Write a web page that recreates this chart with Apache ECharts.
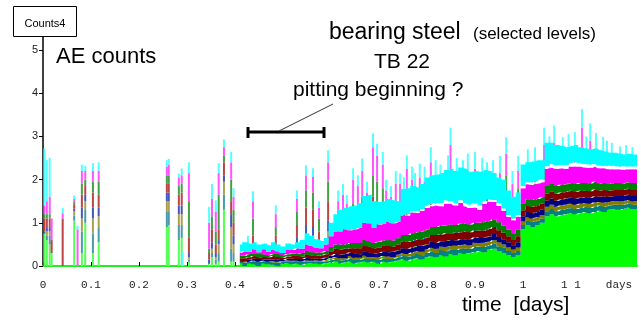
<!DOCTYPE html>
<html>
<head>
<meta charset="utf-8">
<script src="https://cdn.jsdelivr.net/npm/echarts@6/dist/echarts.min.js"></script>
<style>
html, body { margin: 0; padding: 0; background: #fff; }
#chart { width: 641px; height: 322px; }
</style>
</head>
<body>
<div id="chart"></div>
<script>
// x tick labels (days)
const xTickLabels = ['0', '0.1', '0.2', '0.3', '0.4', '0.5', '0.6', '0.7', '0.8', '0.9', '1', '1 1', 'days']

// continuous part, one value every 0.01 day starting at 0.41
const bodyStart = 0.41
const bodyStep = 0.01
const green = [.05,0,.06,.04,0,.05,.04,.03,0,.05, .06,.04,.05,.03,.05,.06,.05,.04,.06,.08, .10,.05,.08,.10,.06,.08,.10,.08,.10,.06, .10,.08,.10,.12,.15,.12,.15,.18,.15,.20, .22,.20,.25,.22,.28,.25,.30,.28,.30,.32, .35,.32,.38,.40,.35,.30,.25,.20,.25,.85, .95,.90,.95,1.00,1.15,1.20,1.15,1.18,1.20,1.22, 1.20,1.22,1.25,1.22,1.25,1.28,1.25,1.30,1.32,1.30, 1.32,1.35,1.32,1.32]
const teal = [.05,.08,.04,.06,.10,.05,.06,.05,.08,.06, .05,.06,.04,.06,.05,.04,.05,.06,.05,.06, .06,.08,.06,.08,.08,.06,.08,.08,.06,.08, .08,.08,.06,.08,.08,.10,.08,.10,.10,.10, .12,.10,.12,.12,.10,.12,.10,.12,.10,.12, .10,.12,.10,.12,.10,.12,.10,.10,.10,.10, .10,.12,.10,.10,.12,.12,.12,.12,.12,.12, .12,.12,.12,.12,.12,.12,.12,.10,.10,.12, .10,.10,.10,.10]
const olive = [0,.02,0,.03,0,.02,0,.03,.02,0, .02,.02,.03,.02,.03,.02,.03,.02,.03,.04, .04,.05,.04,.05,.05,.05,.06,.05,.05,.06, .05,.06,.05,.06,.06,.06,.08,.06,.08,.08, .08,.10,.08,.10,.08,.10,.08,.10,.08,.10, .08,.10,.08,.08,.10,.08,.08,.08,.08,.08, .08,.08,.08,.08,.10,.10,.10,.10,.10,.10, .10,.10,.08,.10,.10,.08,.10,.08,.08,.08, .08,.08,.08,.08]
const navy = [.03,0,.05,.04,.06,.03,.05,.04,.05,.03, .04,.05,.04,.05,.06,.05,.04,.05,.05,.06, .08,.08,.10,.08,.10,.08,.10,.10,.08,.10, .10,.10,.12,.10,.12,.12,.12,.12,.14,.12, .14,.14,.12,.14,.14,.12,.14,.12,.14,.12, .14,.12,.12,.14,.12,.12,.12,.10,.12,.12, .12,.12,.12,.12,.14,.14,.14,.14,.14,.14, .14,.14,.14,.14,.14,.12,.14,.12,.12,.12, .12,.12,.12,.12]
const maroon = [.05,.08,.05,.06,.04,.06,.05,.08,.06,.05, .05,.06,.07,.06,.08,.07,.06,.08,.08,.10, .12,.12,.12,.10,.12,.14,.12,.14,.12,.12, .14,.14,.12,.14,.15,.16,.15,.16,.15,.16, .16,.18,.16,.18,.16,.18,.16,.18,.16,.16, .15,.16,.18,.16,.16,.15,.14,.14,.14,.14, .14,.15,.14,.14,.16,.16,.16,.16,.15,.16, .16,.16,.15,.15,.16,.15,.15,.14,.14,.14, .14,.14,.14,.14]
const dkGreen = [.05,.06,.08,.05,.08,.06,.05,.05,.07,.06, .05,.06,.06,.08,.08,.08,.08,.06,.08,.10, .10,.12,.10,.12,.12,.12,.14,.12,.12,.14, .12,.14,.14,.14,.16,.16,.18,.16,.18,.18, .18,.18,.20,.18,.20,.18,.20,.18,.18,.18, .18,.20,.18,.18,.18,.16,.15,.14,.15,.16, .15,.16,.16,.15,.18,.18,.18,.18,.18,.18, .18,.18,.18,.18,.18,.16,.16,.16,.16,.16, .15,.15,.16,.16]
const magenta = [.08,.10,.05,.10,.04,.12,.08,.10,.06,.05, .10,.08,.12,.10,.15,.15,.12,.10,.15,.25, .30,.30,.35,.30,.32,.35,.40,.42,.35,.40, .38,.42,.40,.38,.45,.45,.48,.45,.48,.50, .48,.50,.45,.50,.48,.45,.48,.40,.38,.35, .30,.42,.45,.40,.38,.35,.30,.30,.30,.35, .35,.35,.36,.35,.40,.38,.40,.38,.36,.38, .40,.38,.36,.36,.35,.35,.34,.34,.32,.32, .32,.30,.32,.32]
const white = [0,0,0,0,0,0,0,0,0,0, 0,0,0,0,0,0,0,0,0,0, 0,0,0,0,0,0,0,0,0,0, 0,0,0,0,0,.03,.03,.04,.04,.05, .05,.06,.08,.08,.06,.05,.06,.08,.08,.10, .10,.06,.05,.05,.06,.05,.04,.04,.04,.05, .05,.05,.06,.06,.06,.08,.08,.08,.08,.08, .10,.08,.08,.08,.06,.06,.06,.08,.08,.06, .08,.06,.06,.06]
const cyan = [.19,.21,.19,.17,.18,.13,.15,.17,.16,.15, .15,.13,.14,.20,.25,.23,.19,.17,.15,.31, .40,.50,.50,.55,.55,.57,.62,.66,.62,.52, .53,.53,.53,.48,.61,.60,.58,.55,.58,.66, .67,.66,.69,.70,.75,.75,.76,.79,.76,.75, .78,.72,.66,.62,.60,.67,.57,.50,.52,.50, .46,.49,.48,.45,.54,.49,.47,.44,.42,.40, .40,.37,.36,.35,.36,.36,.33,.30,.30,.30, .27,.30,.28,.28]

// single bursts (spikes): time in days and the band heights
const spikeT = [.003,.008,.014,.018,.041,.065,.072,.081,.088,.104, .116,.258,.262,.283,.289,.291,.304,.346,.352,.360, .366,.377,.392,.397,.427,.4375,.485,.529,.548,.5625, .575,.594,.633,.646,.656,.665,.6875,.696,.708,.744, .758,.769,.785,.808,.844,.849,.900,.9375,.965,.990, 1.044,1.065,1.083,1.123,1.140,1.152,1.167,1.202,
    .615,.625,.675,.715,.725,.735,.752,.775,.795,.818, .828,.862,.875,.885,.915,.925,.952,.978,1.010,1.025, 1.055,1.095,1.108,1.132,1.175,1.185,1.215,1.228]
const spikeGreen = [.75,.60,.50,.30,0,1.05,0,.30,1.00,.30, .55,.90,.95,.60,.65,0,.10,.05,.20,.05, .10,1.30,.10,.10,0,.10,.10,.20,.30,.30, .15,.30,.15,.20,.20,.25,.30,.30,.25,.20, .25,.25,.25,.35,.35,.40,.40,.45,.45,.40, 1.00,1.20,1.20,1.25,1.25,1.25,1.30,1.30,
    .15,.20,.20,.20,.20,.20,.20,.25,.25,.30, .30,.35,.35,.35,.40,.40,.40,.30,.95,.95, 1.15,1.20,1.20,1.20,1.25,1.30,1.30,1.30]
const spikeTeal = [0,.10,.20,0,0,.12,0,.50,.30,.45, .35,.35,.30,.35,.30,0,.05,0,.10,.10, .20,.35,.30,.20,.05,.10,.10,.15,.20,.20, .15,.25,.15,.20,.15,.20,.30,.25,.25,.20, .25,.20,.20,.25,.20,.30,.20,.20,.30,.25, .20,.20,.15,.25,.20,.15,.15,.10,
    .15,.15,.15,.15,.15,.20,.15,.15,.20,.20, .20,.20,.20,.20,.20,.15,.20,.20,.15,.15, .15,.15,.15,.15,.10,.10,.10,.10]
const spikeOlive = [0,.10,.10,0,0,.10,0,.30,.20,.35, .25,.25,.25,.25,.25,0,.05,0,.10,.05, .20,.30,.50,.20,0,.10,.10,.15,.25,.20, .10,.25,.10,.15,.15,.20,.25,.25,.20,.15, .20,.15,.20,.20,.20,.25,.20,.15,.25,.20, .20,.15,.15,.20,.15,.15,.10,.10,
    .10,.10,.15,.15,.10,.15,.15,.15,.15,.15, .15,.15,.15,.20,.15,.15,.15,.15,.10,.10, .15,.15,.15,.10,.10,.10,.10,.10]
const spikeNavy = [.05,.10,.10,0,0,.06,0,.25,.15,.25, .20,.20,.20,.20,.20,0,.10,.10,.15,.10, .10,.15,.30,.20,0,.10,.10,.15,.20,.20, .10,.25,.15,.20,.20,.20,.30,.25,.25,.20, .25,.20,.20,.25,.20,.30,.25,.20,.30,.25, .25,.20,.15,.25,.20,.15,.15,.10,
    .15,.15,.15,.15,.15,.20,.20,.20,.20,.20, .20,.20,.20,.20,.20,.20,.20,.20,.15,.15, .15,.15,.20,.15,.15,.10,.10,.10]
const spikeMaroon = [.30,.20,.20,.30,1.10,.10,0,.30,.20,.35, .30,.20,.20,.25,.30,0,.35,.15,.30,.20, .25,.30,.30,.30,.10,.30,.30,.30,.40,.40, .30,.45,.25,.35,.30,.35,.45,.40,.40,.30, .35,.35,.35,.40,.35,.45,.35,.30,.40,.35, .30,.30,.25,.35,.30,.25,.25,.20,
    .25,.30,.30,.30,.25,.30,.30,.30,.30,.35, .30,.35,.30,.35,.30,.30,.35,.30,.25,.25, .25,.25,.25,.25,.25,.20,.20,.20]
const spikeDkGreen = [.10,.10,.10,0,0,.05,0,.25,.15,.25, .30,.20,.20,.20,.20,0,.85,.10,.30,.30, .80,.15,.50,.30,0,.40,.20,.30,.40,.40, .30,.45,.25,.35,.35,.40,.50,.50,.45,.35, .40,.35,.35,.40,.40,.50,.35,.30,.40,.35, .35,.30,.25,.40,.35,.30,.25,.20,
    .30,.30,.30,.35,.30,.35,.30,.30,.35,.35, .35,.35,.35,.40,.35,.35,.35,.30,.25,.30, .30,.30,.30,.30,.25,.25,.20,.20]
const spikeMagenta = [.20,.30,.40,.50,.12,.07,.85,.30,.20,.25, .25,.20,.25,.20,.20,0,.65,.60,.40,.45, .50,.20,.40,.30,.35,.40,.30,.30,.35,.36, .25,.45,.40,.55,.50,.60,.65,.60,.55,.50, .55,.50,.50,.55,.50,.60,.50,.45,.50,.40, .50,.50,.45,.50,.45,.45,.40,.40,
    .40,.45,.45,.45,.45,.50,.45,.50,.50,.55, .50,.50,.50,.50,.50,.45,.50,.45,.45,.45, .45,.45,.45,.45,.40,.40,.40,.35]
const spikeCyan = [1.32,.95,.90,0,.12,.08,.08,.15,.12,.18, .20,.15,.13,.09,.16,.32,.25,.37,.35,.27, .23,.18,.24,.20,.20,.23,.20,.20,.23,.20, .15,.28,.19,.26,.25,.29,.32,.28,.29,.24, .31,.30,.32,.35,.36,.40,.39,.40,.38,.35, .40,.40,.38,.43,.40,.38,.39,.37,
    .25,.25,.25,.25,.25,.30,.30,.30,.35,.35, .35,.40,.40,.40,.40,.40,.40,.30,.40,.40, .40,.40,.40,.40,.40,.40,.40,.40]

const bodyT = green.map((_, i) => +(bodyStart + i * bodyStep).toFixed(2))

const bodyLayers = [
    [green, '#00ff00'],
    [teal, '#008080'],
    [olive, '#808000'],
    [navy, '#000080'],
    [maroon, '#800000'],
    [dkGreen, '#008000'],
    [magenta, '#ff00ff'],
    [white, '#ffffff'],
    [cyan, '#00ffff']
]
const spikeLayers = [
    [spikeGreen, '#55ff55'],
    [spikeTeal, '#4a9aaa'],
    [spikeOlive, '#aaa050'],
    [spikeNavy, '#4455bb'],
    [spikeMaroon, '#bb4444'],
    [spikeDkGreen, '#44a044'],
    [spikeMagenta, '#ff55ff'],
    [spikeCyan, '#55ffff']
]

// rows are [count, time] so the count column is the one ECharts stacks
const series = []
bodyLayers.forEach(([vals, color]) => {
    series.push({
        type: 'line',
        stack: 'body',
        step: 'middle',
        symbol: 'none',
        silent: true,
        data: bodyT.map((t, i) => [vals[i], t]),
        encode: { x: 1, y: 0 },
        lineStyle: { width: 0 },
        itemStyle: { color: color },
        areaStyle: { color: color, opacity: 1 }
    })
})
spikeLayers.forEach(([vals, color]) => {
    series.push({
        type: 'bar',
        stack: 'spk',
        barWidth: 2,
        silent: true,
        data: spikeT.map((t, i) => [vals[i], t]),
        encode: { x: 1, y: 0 },
        itemStyle: { color: color }
    })
})

const chart = echarts.init(document.getElementById('chart'))
const sans = 'Liberation Sans, Arial, sans-serif'

chart.setOption({
    backgroundColor: '#fff',
    animation: false,
    grid: { left: 43, right: 4, top: 37, bottom: 56 },
    xAxis: {
        type: 'value',
        min: 0,
        max: 1.2375,
        interval: 0.1,
        splitLine: { show: false },
        axisLine: { lineStyle: { color: '#22ee22', width: 2 } },
        axisTick: { inside: true, length: 4, lineStyle: { color: '#000' } },
        axisLabel: {
            margin: 14,
            color: '#222',
            fontFamily: 'Liberation Mono, monospace',
            fontSize: 11,
            showMaxLabel: false,
            formatter: v => {
                const i = Math.round(v * 10)
                return Math.abs(v * 10 - i) < 1e-6 ? (xTickLabels[i] || '') : ''
            }
        }
    },
    yAxis: {
        type: 'value',
        min: 0,
        max: 5.3,
        interval: 1,
        splitLine: { show: false },
        axisLine: { show: true, lineStyle: { color: '#000', width: 1.5 } },
        axisTick: { show: true, length: 4, lineStyle: { color: '#000' } },
        axisLabel: {
            margin: 5,
            color: '#222',
            fontFamily: sans,
            fontSize: 11,
            showMaxLabel: false,
            formatter: v => Number.isInteger(v) ? String(v) : ''
        }
    },
    series: series,
    graphic: [
        { type: 'rect', shape: { x: 13.5, y: 6.5, width: 63, height: 30 }, style: { fill: '#fff', stroke: '#000', lineWidth: 1 }, z: 10 },
        { type: 'text', x: 45, y: 24, style: { text: 'Counts4', font: '11px ' + sans, fill: '#000', textAlign: 'center', textVerticalAlign: 'middle' }, z: 11 },
        { type: 'text', x: 56, y: 57, style: { text: 'AE counts', font: '22px ' + sans, fill: '#000', textVerticalAlign: 'middle' } },
        { type: 'text', x: 329, y: 33, style: { text: 'bearing steel', font: '23px ' + sans, fill: '#000', textVerticalAlign: 'middle' } },
        { type: 'text', x: 473, y: 34, style: { text: '(selected levels)', font: '17px ' + sans, fill: '#000', textVerticalAlign: 'middle' } },
        { type: 'text', x: 374, y: 62, style: { text: 'TB 22', font: '21px ' + sans, fill: '#000', textVerticalAlign: 'middle' } },
        { type: 'text', x: 293, y: 90, style: { text: 'pitting beginning ?', font: '21px ' + sans, fill: '#000', textVerticalAlign: 'middle' } },
        { type: 'text', x: 462, y: 305, style: { text: 'time  [days]', font: '21px ' + sans, fill: '#000', textVerticalAlign: 'middle' } },
        // bracket marking the pitting interval
        { type: 'line', shape: { x1: 247, y1: 132, x2: 325, y2: 132 }, style: { stroke: '#000', lineWidth: 3 } },
        { type: 'line', shape: { x1: 248, y1: 127, x2: 248, y2: 138 }, style: { stroke: '#000', lineWidth: 3 } },
        { type: 'line', shape: { x1: 324, y1: 127, x2: 324, y2: 138 }, style: { stroke: '#000', lineWidth: 3 } },
        { type: 'line', shape: { x1: 279, y1: 131, x2: 333, y2: 104 }, style: { stroke: '#333', lineWidth: 1 } }
    ]
})
</script>
</body>
</html>
